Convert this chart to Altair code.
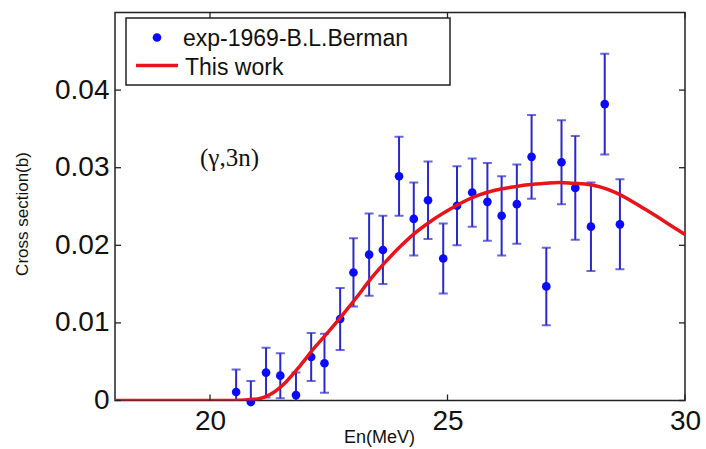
import altair as alt
import pandas as pd

# ---- data ----
energy = [20.55, 20.86, 21.18, 21.48, 21.81, 22.13, 22.41, 22.74, 23.02, 23.35,
          23.64, 23.98, 24.29, 24.59, 24.91, 25.20, 25.52, 25.84, 26.14, 26.46,
          26.77, 27.08, 27.40, 27.69, 28.02, 28.31, 28.63]
sigma = [0.0011, -0.0002, 0.0036, 0.0032, 0.0007, 0.0056, 0.0048, 0.0105, 0.0165, 0.0188,
         0.0194, 0.0289, 0.0234, 0.0258, 0.0183, 0.0251, 0.0268, 0.0256, 0.0238, 0.0253,
         0.0314, 0.0147, 0.0307, 0.0274, 0.0224, 0.0382, 0.0227]
sigma_err = [0.0029, 0.0027, 0.0032, 0.0029, 0.0029, 0.0031, 0.0038, 0.0040, 0.0044, 0.0053,
             0.0044, 0.0051, 0.0047, 0.0050, 0.0045, 0.0051, 0.0044, 0.0050, 0.0051, 0.0051,
             0.0054, 0.0050, 0.0054, 0.0067, 0.0057, 0.0065, 0.0058]

curve_energy = [18.0, 19.0, 20.0, 20.5, 21.0, 21.3, 21.6, 21.9, 22.2, 22.5,
                22.8, 23.1, 23.4, 23.7, 24.0, 24.3, 24.65, 25.04, 25.4, 25.67,
                26.0, 26.37, 26.7, 27.07, 27.35, 27.63, 28.02, 28.54, 29.17, 29.87, 30.0]
curve_sigma = [0.0, 0.0, 0.0, 0.0, 0.0002, 0.0009, 0.0024, 0.0045, 0.0068, 0.0089,
               0.0111, 0.0134, 0.0158, 0.0179, 0.0198, 0.0215, 0.0231, 0.0246, 0.0258, 0.0265,
               0.0271, 0.0275, 0.0278, 0.0280, 0.0281, 0.0280, 0.0278, 0.0268, 0.0246, 0.0219, 0.0214]

x_ticks = [20, 25, 30]
y_ticks = [0, 0.01, 0.02, 0.03, 0.04]
x_domain = [18, 30]
y_domain = [0, 0.05]
legend_labels = ["exp-1969-B.L.Berman", "This work"]
annotation_text = ["(γ,3n)"]
annotation_E = [19.79]
annotation_s = [0.0312]

# ---- styling ----
W, H = 570, 388
BLUE_DOT = "#0a0aff"
BLUE_BAR = "#2a2ac8"
RED = "#e8141c"
SANS = "Liberation Sans"

pts = pd.DataFrame({
    "E": energy,
    "s": sigma,
    "lo": [s - e for s, e in zip(sigma, sigma_err)],
    "hi": [s + e for s, e in zip(sigma, sigma_err)],
})
curve_df = pd.DataFrame({"E": curve_energy, "s": curve_sigma})
xt_df = pd.DataFrame({"E": x_ticks})
yt_df = pd.DataFrame({"s": y_ticks})
ann_df = pd.DataFrame({"E": annotation_E, "s": annotation_s, "t": annotation_text})

xs = alt.Scale(domain=x_domain, nice=False, zero=False)
ys = alt.Scale(domain=y_domain, nice=False, zero=False)

x_axis = alt.Axis(values=x_ticks, title="En(MeV)", domain=False, ticks=False, grid=False,
                  labelFont=SANS, labelFontSize=28, labelColor="#111", labelPadding=7,
                  labelFlush=False, labelOverlap=False, labelBound=False,
                  titleFont=SANS, titleFontSize=18, titleFontWeight="normal", titleColor="#111",
                  titleX=264, titleY=37, titleBaseline="middle", titleAlign="center")
y_axis = alt.Axis(values=y_ticks, title="Cross section(b)", domain=False, ticks=False, grid=False,
                  labelFont=SANS, labelFontSize=28, labelColor="#111", labelPadding=6,
                  labelFlush=False, labelOverlap=False, labelBound=False,
                  labelExpr="datum.value == 0 ? '0' : format(datum.value, '.2f')",
                  titleFont=SANS, titleFontSize=17, titleFontWeight="normal", titleColor="#111",
                  titleX=-93, titleY=201, titleBaseline="middle", titleAlign="center",
                  titleAngle=270)


def X(f="E"):
    return alt.X(f + ":Q", scale=xs, axis=x_axis)


def Y(f="s"):
    return alt.Y(f + ":Q", scale=ys, axis=y_axis)


bars = alt.Chart(pts).mark_rule(color=BLUE_BAR, strokeWidth=2, clip=True).encode(
    x=X(), y=Y("lo"), y2="hi:Q")
caps_hi = alt.Chart(pts).mark_tick(color=BLUE_BAR, thickness=2, size=9, orient="horizontal",
                                   clip=True).encode(x=X(), y=Y("hi"))
caps_lo = alt.Chart(pts).mark_tick(color=BLUE_BAR, thickness=2, size=9, orient="horizontal",
                                   clip=True).encode(x=X(), y=Y("lo"))
dots = alt.Chart(pts).mark_point(filled=True, color=BLUE_DOT, size=75, opacity=1).encode(x=X(), y=Y())
curve = alt.Chart(curve_df).mark_line(color=RED, strokeWidth=3.5, interpolate="monotone",
                                      clip=True).encode(x=X(), y=Y())

# inward ticks on all four sides
tk = dict(color="#222", strokeWidth=1.3)
t_bottom = alt.Chart(xt_df).mark_rule(**tk).encode(x=X(), y=alt.value(H), y2=alt.value(H - 6))
t_top = alt.Chart(xt_df).mark_rule(**tk).encode(x=X(), y=alt.value(0), y2=alt.value(6))
t_left = alt.Chart(yt_df).mark_rule(**tk).encode(y=Y(), x=alt.value(0), x2=alt.value(6))
t_right = alt.Chart(yt_df).mark_rule(**tk).encode(y=Y(), x=alt.value(W), x2=alt.value(W - 6))

ann = alt.Chart(ann_df).mark_text(font="Liberation Serif", fontSize=25, align="left",
                                  baseline="middle", color="#111").encode(x=X(), y=Y(), text="t:N")

# legend (drawn inside plot, top-left)
one = pd.DataFrame({"k": [0]})
leg_box = alt.Chart(one).mark_rect(fill="white", stroke="#222", strokeWidth=1.5).encode(
    x=alt.value(11), x2=alt.value(335), y=alt.value(5.5), y2=alt.value(72.5))
leg_dot = alt.Chart(one).mark_point(filled=True, color=BLUE_DOT, size=75, opacity=1).encode(
    x=alt.value(42), y=alt.value(25))
leg_line = alt.Chart(one).mark_rule(color=RED, strokeWidth=3.5).encode(
    x=alt.value(21), x2=alt.value(63), y=alt.value(53))
leg_t1 = alt.Chart(pd.DataFrame({"t": [legend_labels[0]]})).mark_text(
    font=SANS, fontSize=23, align="left", baseline="middle", color="#111").encode(
    x=alt.value(68), y=alt.value(26), text="t:N")
leg_t2 = alt.Chart(pd.DataFrame({"t": [legend_labels[1]]})).mark_text(
    font=SANS, fontSize=23, align="left", baseline="middle", color="#111").encode(
    x=alt.value(70), y=alt.value(55), text="t:N")

chart = alt.layer(
    bars, caps_hi, caps_lo, dots, curve,
    t_bottom, t_top, t_left, t_right,
    ann, leg_box, leg_dot, leg_line, leg_t1, leg_t2,
).properties(
    width=W, height=H,
    autosize=alt.AutoSizeParams(type="none"),
    padding={"left": 115, "top": 12.5, "right": 706 - 115 - W, "bottom": 449 - 12.5 - H},
    background="white",
).configure_view(stroke="#222", strokeWidth=1.5)

chart.save("out.html", embed_options={"renderer": "svg", "actions": False})
